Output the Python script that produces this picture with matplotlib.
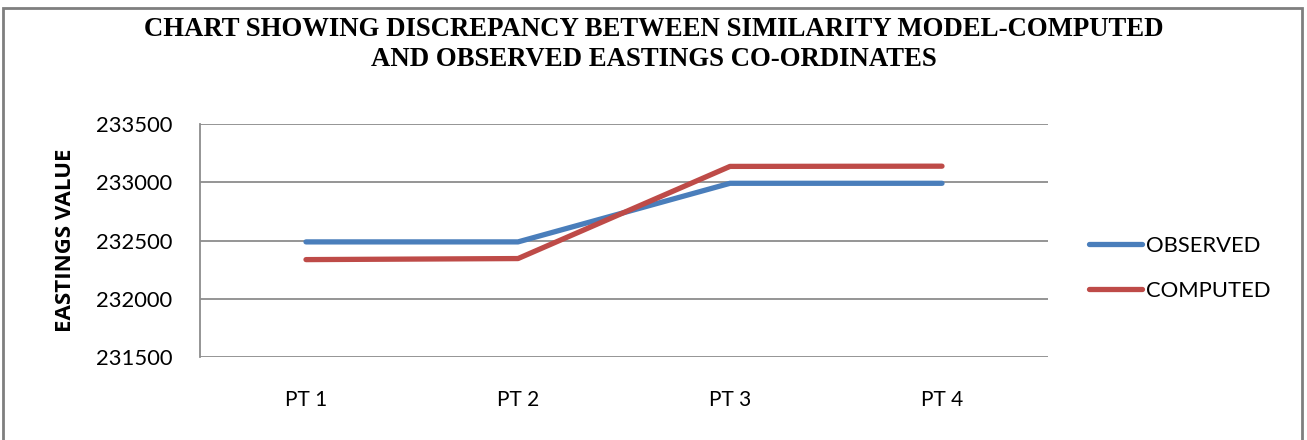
import matplotlib
matplotlib.use("Agg")
import matplotlib.pyplot as plt
from matplotlib.patches import Rectangle

# data
points = ["PT 1", "PT 2", "PT 3", "PT 4"]
observed = [232488, 232488, 232991, 232991]
computed = [232336, 232345, 233136, 233138]
y_ticks = [231500, 232000, 232500, 233000, 233500]

BLUE = "#4A7EBB"
RED = "#BE4B48"
GRID = "#8C8C8C"

W, H = 1307, 440
fig = plt.figure(figsize=(W / 100, H / 100), dpi=100)

# plot area in pixels: x 200..1048, y 124..357
ax = fig.add_axes([200 / W, 1 - 357 / H, 848 / W, 233 / H])

x = range(len(points))
ax.plot(x, observed, color=BLUE, lw=3.8, label="OBSERVED", solid_capstyle="round")
ax.plot(x, computed, color=RED, lw=3.8, label="COMPUTED", solid_capstyle="round")

ax.set_xlim(-0.5, len(points) - 0.5)
ax.set_ylim(y_ticks[0], y_ticks[-1])
ax.set_yticks(y_ticks)
ax.set_yticklabels([str(v) for v in y_ticks], fontsize=15.8, family="Lato")
ax.set_xticks(list(x))
ax.set_xticklabels(points, fontsize=15, family="Lato")
ax.tick_params(length=0)
ax.tick_params(axis="y", pad=20)
ax.tick_params(axis="x", pad=24)

ax.grid(axis="y", color=GRID, lw=1.3)
ax.set_axisbelow(True)
for s in ["top", "right", "bottom"]:
    ax.spines[s].set_visible(False)
ax.spines["left"].set_color(GRID)
ax.spines["left"].set_linewidth(1.3)

ax.set_ylabel("EASTINGS VALUE", fontsize=16, family="Open Sans", fontweight="bold", labelpad=14)

leg = ax.legend(loc="center left", bbox_to_anchor=(1.025, 0.38), frameon=False,
                prop={"family": "Lato", "size": 15.8}, handlelength=2.4,
                handletextpad=0.2, labelspacing=1.15)

title_kw = dict(ha="center", va="center", family="Liberation Serif",
                fontweight="bold", fontsize=19.3)
fig.text(0.5, 1 - 29 / H, "CHART SHOWING DISCREPANCY BETWEEN SIMILARITY MODEL-COMPUTED", **title_kw)
fig.text(0.5, 1 - 60 / H, "AND OBSERVED EASTINGS CO-ORDINATES", **title_kw)

# outer chart border
fig.patches.append(Rectangle((3 / W, -0.05), 1299 / W, 1.05 - 8 / H,
                             transform=fig.transFigure, fill=False,
                             edgecolor="#7F7F7F", lw=2))

fig.savefig("out.png", dpi=100)
